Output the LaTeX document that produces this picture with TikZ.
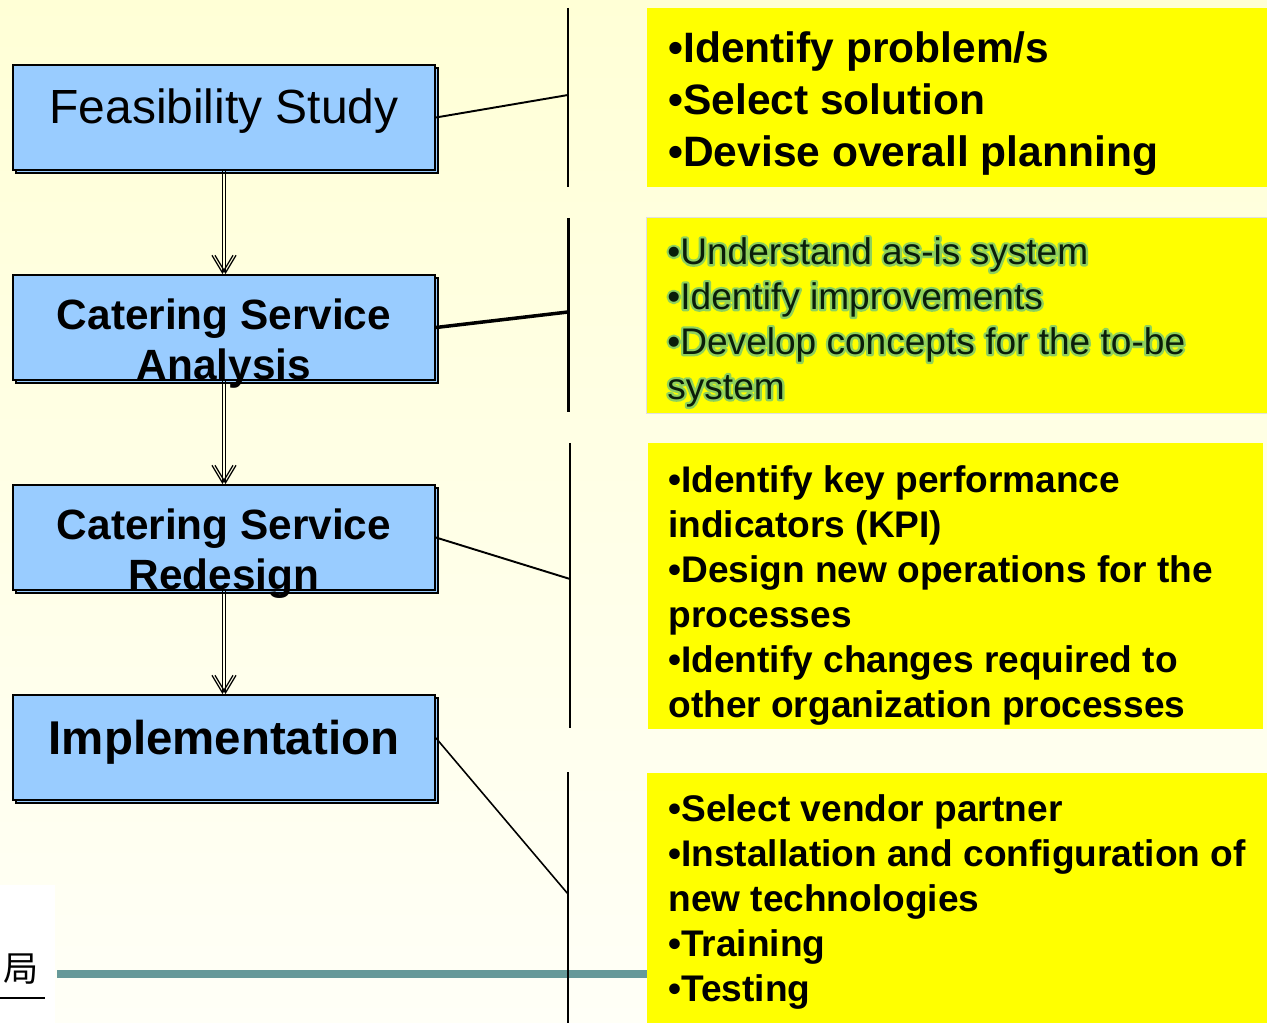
\documentclass[tikz,border=0pt]{standalone}
\usepackage{fontspec}
\setmainfont{Liberation Sans}
\newfontfamily\cjk{Noto Sans CJK SC}
\usetikzlibrary{arrows.meta,shadows}

\definecolor{paper}{RGB}{255,255,214}
\definecolor{paperlow}{RGB}{255,255,247}
\definecolor{phaseblue}{RGB}{153,204,255}
\definecolor{noteyellow}{RGB}{255,255,0}
\definecolor{ink}{RGB}{10,30,10}
\definecolor{ruleteal}{RGB}{102,153,153}

% stroke-only glyphs for the green halo
\newcommand\halo{\special{pdf:literal direct 1 Tr 1 j 2.6 w 0.56 0.82 0.36 RG}}
\newcommand\asisnotes{•Understand as-is system\\•Identify improvements\\•Develop concepts for the to-be\\system}

\tikzset{
  phase/.style={rectangle, draw, line width=1.1pt, fill=phaseblue,
    minimum width=8.44cm, minimum height=2.1cm, inner sep=0pt,
    copy shadow={shadow xshift=0.06cm, shadow yshift=-0.06cm}},
  phasetext/.style={anchor=north, align=center, inner sep=0pt},
  notebox/.style={fill=noteyellow},
  notetext/.style={anchor=north west, align=left, inner sep=0pt},
  flow/.style={line width=0.7pt, -{Straight Barb[length=10pt,width=12pt]}},
  link/.style={line width=1.1pt},
}

\begin{document}
\begin{tikzpicture}[x=0.02cm, y=-0.02cm]
  % background
  \shade[top color=paper, bottom color=paperlow] (0,0) rectangle (1267,1023);
  \fill[white] (0,885) rectangle (55,1023);
  \useasboundingbox (0,0) rectangle (1267,1023);

  % footer rule
  \fill[ruleteal] (57,970) rectangle (647,978);
  \node[inner sep=0pt, anchor=north west, font=\cjk\fontsize{20}{20}\selectfont] (ju) at (3,953) {局};
  \draw[line width=1.1pt] (0,998) -- (45,998);

  % phases
  \node[phase] (fs)   at (224,117.5) {};
  \node[phase] (csa)  at (224,327.5) {};
  \node[phase] (csr)  at (224,537.5) {};
  \node[phase] (impl) at (224,747.5) {};

  % double arrows between phases
  \foreach \a/\b in {fs/csa, csa/csr, csr/impl} {
    \draw[flow] ([xshift=-0.03cm]\a.south) -- ([xshift=-0.03cm]\b.north);
    \draw[flow] ([xshift=0.03cm]\a.south) -- ([xshift=0.03cm]\b.north);
  }

  \node[phasetext, font=\fontsize{27.3}{30}\selectfont] (fs-t) at (224,88) {Feasibility Study};
  \node[phasetext, font=\bfseries\fontsize{24.1}{29}\selectfont] (csa-t) at (224,298) {Catering Service\\Analysis};
  \node[phasetext, font=\bfseries\fontsize{24.1}{29}\selectfont] (csr-t) at (224,508) {Catering Service\\Redesign};
  \node[phasetext, font=\bfseries\fontsize{27}{30}\selectfont] (impl-t) at (224,720) {Implementation};

  % brackets
  \coordinate (b1a) at (568,8);   \coordinate (b1b) at (568,187);
  \coordinate (b2a) at (568,218); \coordinate (b2b) at (568,412);
  \coordinate (b3a) at (570,443); \coordinate (b3b) at (570,728);
  \coordinate (b4a) at (568,772); \coordinate (b4b) at (568,1023);
  \coordinate (j1) at (568,95);
  \coordinate (j2) at (568,312);
  \coordinate (j3) at (570,579);
  \coordinate (j4) at (568,894);
  \draw[link] (b1a) -- (b1b);
  \draw[link, line width=1.7pt] (b2a) -- (b2b);
  \draw[link] (b3a) -- (b3b);
  \draw[link] (b4a) -- (b4b);
  \draw[link] (fs.east) -- (j1);
  \draw[link, line width=2pt] (csa.east) -- (j2);
  \draw[link] (csr.east) -- (j3);
  \draw[link, line width=0.9pt] ([yshift=0.19cm]impl.east) -- (j4);

  % notes
  \fill[notebox] (647,8) rectangle (1267,187);
  \fill[notebox, draw=black!12] (646,217) rectangle (1267,413);
  \fill[notebox] (648,443) rectangle (1263,729);
  \fill[notebox] (647,773) rectangle (1267,1023);

  \node[notetext, font=\bfseries\fontsize{24.2}{29.6}\selectfont] (n1) at (668,31)
    {•Identify problem/s\\•Select solution\\•Devise overall planning};
  \node[notetext, font=\fontsize{21.1}{25.6}\selectfont] (n2-halo) at (667,237)
    {\halo\asisnotes};
  \node[notetext, text=ink, font=\fontsize{21.1}{25.6}\selectfont] (n2) at (667,237)
    {\asisnotes};
  \node[notetext, font=\bfseries\fontsize{21.1}{25.6}\selectfont] (n3) at (668,465)
    {•Identify key performance\\indicators (KPI)\\•Design new operations for the\\processes\\•Identify changes required to\\other organization processes};
  \node[notetext, font=\bfseries\fontsize{21.1}{25.6}\selectfont] (n4) at (668,794)
    {•Select vendor partner\\•Installation and configuration of\\new technologies\\•Training\\•Testing};
\end{tikzpicture}
\end{document}
